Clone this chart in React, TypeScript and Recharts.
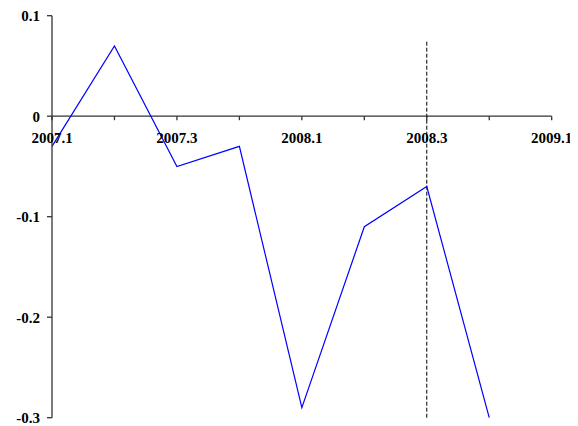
import React from 'react';
import { LineChart, Line, XAxis, YAxis, ReferenceLine, ReferenceDot } from 'recharts';

const quarters = ['2007.1', '2007.2', '2007.3', '2007.4', '2008.1', '2008.2', '2008.3', '2008.4', '2009.1'];
const values: (number | null)[] = [-0.03, 0.07, -0.05, -0.03, -0.29, -0.11, -0.07, -0.3, null];
const shownLabels = ['2007.1', '2007.3', '2008.1', '2008.3', '2009.1'];
const yTicks = [-0.3, -0.2, -0.1, 0, 0.1];
const markerQuarter = '2008.3';
const markerTop = 0.075;

const data = quarters.map((q, i) => ({ q, v: values[i] }));

const FONT = '"Liberation Serif", "Times New Roman", serif';

const makeTick = (label: string) => (p: any) => (
  <g>
    <line x1={p.cx} y1={p.cy} x2={p.cx} y2={p.cy + 4} stroke="#333" strokeWidth={1.3} />
    {shownLabels.includes(label) && (
      <text x={p.cx} y={p.cy + 27} textAnchor="middle" fontFamily={FONT} fontWeight="bold" fontSize={15} fill="#000">
        {label}
      </text>
    )}
  </g>
);

export default function App() {
  return (
    <LineChart width={570} height={418} data={data} margin={{ top: 7.7, right: 26.3, bottom: 8.3, left: 0 }}>
      <XAxis dataKey="q" hide />
      <YAxis
        domain={[-0.3, 0.1]}
        ticks={yTicks}
        interval={0}
        width={44}
        tickSize={5}
        tickMargin={7}
        axisLine={{ stroke: '#333', strokeWidth: 1.3 }}
        tickLine={{ stroke: '#333', strokeWidth: 1.3 }}
        tick={{ fontFamily: FONT, fontWeight: 'bold', fontSize: 15, fill: '#000' }}
        tickFormatter={(v: number) => String(v)}
      />
      <ReferenceLine y={0} stroke="#333" strokeWidth={1.3} />
      {quarters.map((q) => (
        <ReferenceDot key={q} x={q} y={0} r={0} shape={makeTick(q)} />
      ))}
      <ReferenceLine
        segment={[{ x: markerQuarter, y: -0.3 }, { x: markerQuarter, y: markerTop }]}
        stroke="#000"
        strokeDasharray="4 2"
        strokeWidth={1}
      />
      <Line dataKey="v" stroke="#0000FF" strokeWidth={1.2} dot={false} isAnimationActive={false} />
    </LineChart>
  );
}
